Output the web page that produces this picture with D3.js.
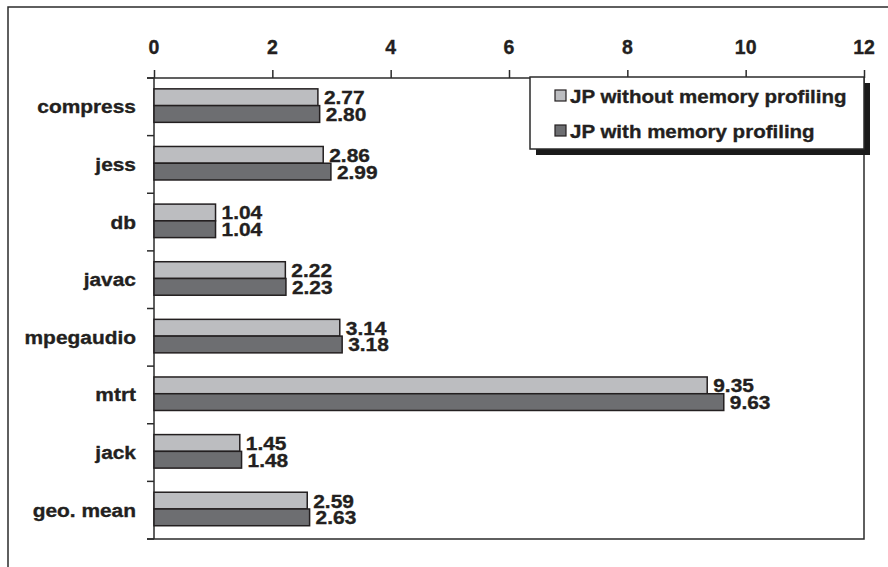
<!DOCTYPE html>
<html>
<head>
<meta charset="utf-8">
<script src="https://cdnjs.cloudflare.com/ajax/libs/d3/7.8.5/d3.min.js"></script>
<style>
  html, body { margin: 0; padding: 0; background: #fff; }
  svg { display: block; }
  text { font-family: "Liberation Sans", Arial, sans-serif; font-weight: bold; fill: #231f20;
         stroke: #231f20; stroke-width: 0.35px; }
</style>
</head>
<body>
<div id="chart"></div>
<script>
// Benchmarks and the two profiling runs
const categories = ["compress", "jess", "db", "javac", "mpegaudio", "mtrt", "jack", "geo. mean"];
const seriesNames = ["JP without memory profiling", "JP with memory profiling"];
const withoutProfiling = [2.77, 2.86, 1.04, 2.22, 3.14, 9.35, 1.45, 2.59];
const withProfiling = [2.80, 2.99, 1.04, 2.23, 3.18, 9.63, 1.48, 2.63];
const xTicks = [0, 2, 4, 6, 8, 10, 12];
const seriesColors = ["#bcbdc0", "#6d6e71"];

const W = 888, H = 567;
const plot = { left: 154, right: 864, top: 78, bottom: 539 };
const ink = "#2b2b2b";
const stretch = "scale(1.1,1)";

const svg = d3.select("#chart").append("svg").attr("width", W).attr("height", H);

// outer frame (runs off the right and bottom edges)
svg.append("rect")
  .attr("x", 8).attr("y", 7).attr("width", 920).attr("height", 620)
  .attr("fill", "none").attr("stroke", ink).attr("stroke-width", 1.5);

const x = d3.scaleLinear().domain([0, 12]).range([plot.left, plot.right]);
const y = d3.scaleBand().domain(categories).range([plot.top, plot.bottom]);
const ySub = d3.scaleBand().domain([0, 1]).range([0, y.bandwidth()]).paddingOuter(0.72).align(0.45);

// plot frame: right and bottom edges
svg.append("path")
  .attr("d", `M${plot.right},${plot.top}V${plot.bottom}H${plot.left - 7}`)
  .attr("fill", "none").attr("stroke", ink).attr("stroke-width", 1.5);

// top value axis
const xAxis = svg.append("g").attr("transform", `translate(0,${plot.top})`)
  .call(d3.axisTop(x).tickValues(xTicks).tickSize(8).tickFormat(d3.format("d")));
xAxis.select(".domain").remove();
xAxis.selectAll(".tick line").attr("stroke", ink).attr("stroke-width", 1.5);
xAxis.selectAll(".tick text").remove();
xAxis.append("line")
  .attr("x1", plot.left - 7).attr("x2", plot.right)
  .attr("stroke", ink).attr("stroke-width", 1.5);
svg.append("g").selectAll("text").data(xTicks).join("text")
  .attr("transform", d => `translate(${x(d)},54)`)
  .attr("text-anchor", "middle")
  .style("font-size", "19.5px")
  .text(d => d);

// left category axis: ticks on band boundaries
const boundaries = d3.range(categories.length + 1).map(i => plot.top + i * y.step());
svg.append("line")
  .attr("x1", plot.left).attr("x2", plot.left)
  .attr("y1", plot.top).attr("y2", plot.bottom)
  .attr("stroke", ink).attr("stroke-width", 1.5);
svg.append("g").selectAll("line").data(boundaries).join("line")
  .attr("x1", plot.left - 7).attr("x2", plot.left)
  .attr("y1", d => d).attr("y2", d => d)
  .attr("stroke", ink).attr("stroke-width", 1.5);

svg.append("g").selectAll("text").data(categories).join("text")
  .attr("transform", d => `translate(136,${y(d) + y.bandwidth() / 2 + 6.5}) ${stretch}`)
  .attr("text-anchor", "end")
  .style("font-size", "19px")
  .text(d => d);

// bars with value labels
const rows = categories.map((c, i) => ({ c, vals: [withoutProfiling[i], withProfiling[i]] }));
const groups = svg.append("g").selectAll("g").data(rows).join("g")
  .attr("transform", d => `translate(0,${y(d.c)})`);

groups.selectAll("rect").data(d => d.vals.map((v, s) => ({ v, s }))).join("rect")
  .attr("x", x(0))
  .attr("y", d => ySub(d.s))
  .attr("width", d => x(d.v) - x(0))
  .attr("height", ySub.bandwidth())
  .attr("fill", d => seriesColors[d.s])
  .attr("stroke", "#231f20").attr("stroke-width", 1.5);

groups.selectAll("text").data(d => d.vals.map((v, s) => ({ v, s }))).join("text")
  .attr("transform", d => `translate(${x(d.v) + 6},${ySub(d.s) + ySub.bandwidth() / 2 + 7}) ${stretch}`)
  .style("font-size", "19px")
  .text(d => d.v.toFixed(2));

// legend with drop shadow
const lg = { x: 530, y: 77, w: 334, h: 72 };
svg.append("rect")
  .attr("x", lg.x + 6).attr("y", lg.y + 6).attr("width", lg.w).attr("height", lg.h)
  .attr("fill", "#1a1a1a");
svg.append("rect")
  .attr("x", lg.x).attr("y", lg.y).attr("width", lg.w).attr("height", lg.h)
  .attr("fill", "#fff").attr("stroke", ink).attr("stroke-width", 1.5);

const items = svg.append("g").selectAll("g").data(seriesNames).join("g")
  .attr("transform", (d, i) => `translate(555,${95.5 + i * 35})`);
items.append("rect")
  .attr("x", 0).attr("y", -5.5).attr("width", 11).attr("height", 11)
  .attr("fill", (d, i) => seriesColors[i])
  .attr("stroke", "#231f20").attr("stroke-width", 1.2);
items.append("text")
  .attr("transform", "translate(15,7) scale(1.08,1)")
  .style("font-size", "19px")
  .text(d => d);
</script>
</body>
</html>
